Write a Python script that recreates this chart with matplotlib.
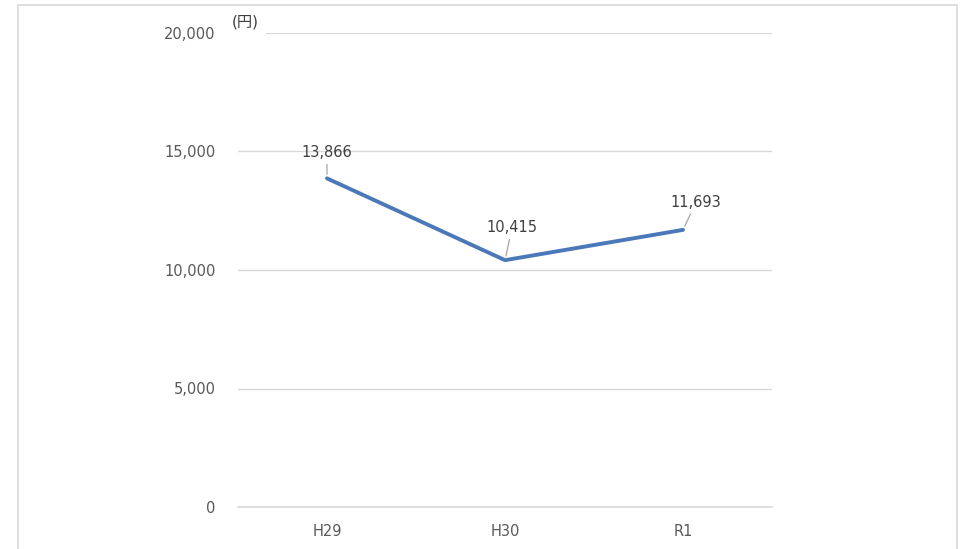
import matplotlib.pyplot as plt
from matplotlib.ticker import FuncFormatter
from matplotlib.patches import Rectangle

plt.rcParams['font.family'] = ['DejaVu Sans', 'Noto Sans CJK JP']

years = ["H29", "H30", "R1"]
values = [13866, 10415, 11693]
label_offsets = [(0, 18), (7, 25), (13, 20)]  # pixels

fig = plt.figure(figsize=(9.64, 5.49), dpi=100)
ax = fig.add_axes([238 / 964, 1 - 507 / 549, (772 - 238) / 964, (507 - 33) / 549])

# light frame around the figure
fig.patches.append(Rectangle((18 / 964, -0.1), (957 - 18) / 964, 1.1 - 5 / 549,
                             transform=fig.transFigure, fill=False,
                             edgecolor="#d9d9d9", linewidth=1.2))

x = range(len(years))
ax.plot(x, values, color="#4a78b8", linewidth=2.8, solid_capstyle="round", zorder=3)

for xi, v, off in zip(x, values, label_offsets):
    ax.annotate(f"{v:,}", xy=(xi, v), xytext=off, textcoords="offset pixels",
                ha="center", va="bottom", fontsize=10.5, color="#404040",
                arrowprops=dict(arrowstyle="-", color="#a6a6a6", lw=0.9,
                                shrinkA=1, shrinkB=3))

ax.set_xlim(-0.5, 2.5)
ax.set_ylim(0, 20000)
ax.set_yticks([0, 5000, 10000, 15000, 20000])
ax.yaxis.set_major_formatter(FuncFormatter(lambda v, p: f"{int(v):,}"))
ax.set_xticks(list(x))
ax.set_xticklabels(years)
ax.grid(axis="y", color="#d9d9d9", linewidth=1)
ax.axhline(0, color="#d9d9d9", linewidth=1.2, clip_on=False, zorder=1)
ax.set_axisbelow(True)
for s in ax.spines.values():
    s.set_visible(False)
ax.tick_params(length=0, labelsize=10.5, colors="#595959", pad=12)
ax.tick_params(axis="y", pad=16)

fig.text(232 / 964, 1 - 22 / 549, "(円)", fontsize=11, color="#404040",
         ha="left", va="center",
         bbox=dict(facecolor="white", edgecolor="none", pad=5), zorder=5)

fig.savefig("out.png", dpi=100)
